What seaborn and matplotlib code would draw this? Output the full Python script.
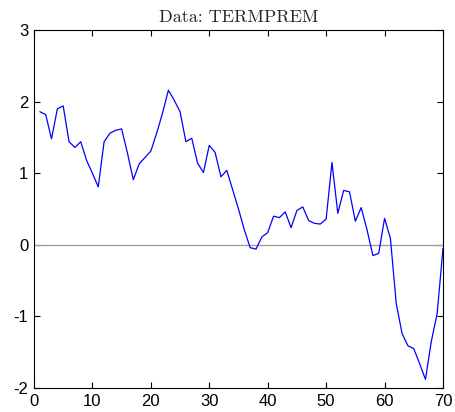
import matplotlib
matplotlib.use("Agg")
import matplotlib.pyplot as plt
import seaborn as sns
import pandas as pd

# Term premium series, one value per observation
periods = list(range(1, 71))
termprem = [
    1.86, 1.82, 1.48, 1.90, 1.94, 1.44, 1.36, 1.44, 1.18, 1.00,
    0.81, 1.44, 1.56, 1.60, 1.62, 1.28, 0.91, 1.13, 1.22, 1.31,
    1.56, 1.84, 2.16, 2.02, 1.86, 1.44, 1.49, 1.14, 1.01, 1.39,
    1.29, 0.95, 1.04, 0.77, 0.50, 0.21, -0.04, -0.06, 0.11, 0.17,
    0.40, 0.38, 0.46, 0.24, 0.48, 0.53, 0.34, 0.30, 0.29, 0.36,
    1.15, 0.44, 0.76, 0.74, 0.33, 0.52, 0.21, -0.15, -0.12, 0.37,
    0.09, -0.82, -1.24, -1.41, -1.45, -1.66, -1.88, -1.35, -0.96, -0.05,
]
x_ticks = [0, 10, 20, 30, 40, 50, 60, 70]
y_ticks = [-2, -1, 0, 1, 2, 3]
title_text = "Data: TERMPREM"

df = pd.DataFrame({"t": periods, "value": termprem})

sns.set_style("ticks")
plt.rcParams["font.family"] = ["Liberation Sans", "DejaVu Sans"]
plt.rcParams["axes.unicode_minus"] = False

fig = plt.figure(figsize=(4.55, 4.12), dpi=100)
ax = fig.add_axes([0.0747, 0.0583, 0.8989, 0.8687])

ax.axhline(0, color="#a0a0a0", linewidth=1.0, zorder=1)
sns.lineplot(data=df, x="t", y="value", ax=ax, color="#0000ff",
             linewidth=0.9, zorder=2)

ax.set_xlim(0, 70)
ax.set_ylim(-2, 3)
ax.set_xticks(x_ticks)
ax.set_yticks(y_ticks)
ax.set_xlabel("")
ax.set_ylabel("")
ax.tick_params(direction="in", top=True, right=True, length=4,
               width=0.8, labelsize=12, colors="black")
ax.tick_params(axis="x", pad=4.5)
ax.tick_params(axis="y", pad=4)
for side in ["top", "bottom", "left", "right"]:
    ax.spines[side].set_visible(True)
    ax.spines[side].set_color("black")
    ax.spines[side].set_linewidth(0.8)

ax.set_title(title_text, fontfamily="cmr10", fontsize=13, pad=6)

fig.savefig("out.png", dpi=100)
